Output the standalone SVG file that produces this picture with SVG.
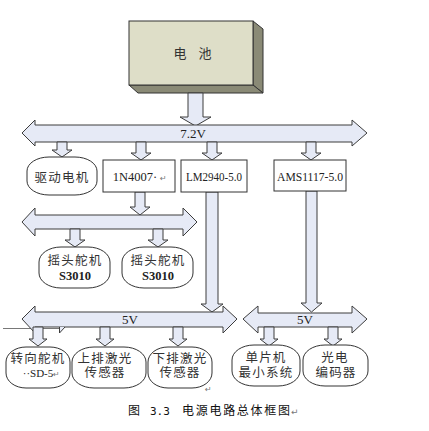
<svg xmlns="http://www.w3.org/2000/svg" width="429" height="431" viewBox="0 0 429 431">
<style>
.arr{fill:#e6eaf6;stroke:#3c3c3c;stroke-width:1;stroke-linejoin:miter}
.box{fill:#ffffff;stroke:#333;stroke-width:1}
.oval{fill:#ffffff;stroke:#333;stroke-width:1}
.t{font-family:"Liberation Serif","Noto Sans CJK SC",serif;font-size:13px;fill:#222;text-anchor:middle}
.cn{font-family:"Liberation Serif","Noto Sans CJK SC",sans-serif;font-size:12.5px;fill:#333;text-anchor:middle;letter-spacing:1.2px}
.ret{font-family:"DejaVu Sans",sans-serif;font-size:8px;fill:#777}
</style>
<rect width="429" height="431" fill="#ffffff"/>

<g id="battery">
<polygon points="253,21 263,29 263,93 253,85" fill="#8a8a76" stroke="#333" stroke-width="1"/>
<polygon points="129,85 253,85 263,93 138,93" fill="#8a8a76" stroke="#333" stroke-width="1"/>
<rect x="129" y="21" width="124" height="64" fill="#dedec8" stroke="#333" stroke-width="1"/>
<text x="180" y="58" class="cn" style="font-size:13px;letter-spacing:0">电</text>
<text x="205" y="58" class="cn" style="font-size:13px;letter-spacing:0">池</text>
</g>

<g id="connectors">
<path class="arr" d="M188,93 L203,93 L203,117 L211,117 L195.5,126 L180,117 L188,117 Z"/>
<path class="arr" d="M206,192 L218,192 L218,304 L223,304 L212,312 L201,304 L206,304 Z"/>
<path class="arr" d="M306,191 L317,191 L317,303 L322,303 L311.5,312 L301,303 L306,303 Z"/>
<path class="arr" d="M135,192 L145,192 L145,207 L150,207 L140,215 L130,207 L135,207 Z"/>

<g id="bus72">
<path class="arr" d="M22,133 L35,120 L35,125 L352,125 L352,120 L367,133 L352,146 L352,142 L35,142 L35,146 Z"/>
<text x="193" y="137.5" class="t">7.2V</text>
</g>
<g id="bus2">
<path class="arr" d="M22,222 L35,208 L35,215 L183,215 L183,208 L197,222 L183,236 L183,229 L35,229 L35,236 Z"/>
</g>
<path d="M3,328.5 H62" stroke="#555" stroke-width="0.8" fill="none"/>
<g id="bus5a">
<path class="arr" d="M22,319 L35,306 L35,312 L223,312 L223,306 L237,319 L223,333 L223,327 L35,327 L35,333 Z"/>
<text x="130" y="324" class="t">5V</text>
</g>
<path class="arr" d="M59.5,327 L59.5,333 L65,327"/>
<g id="bus5b">
<path class="arr" d="M243,319 L258,306 L258,313 L352,313 L352,306 L367,319 L352,333 L352,327 L258,327 L258,333 Z"/>
<text x="305" y="324" class="t">5V</text>
</g>

<path class="arr" d="M57,142 L67,142 L67,150 L72,150 L62,157 L52,150 L57,150 Z"/>
<path class="arr" d="M136,142 L146,142 L146,153 L151,153 L141,160 L131,153 L136,153 Z"/>
<path class="arr" d="M207,142 L217,142 L217,153 L222,153 L212,160 L202,153 L207,153 Z"/>
<path class="arr" d="M306,142 L316,142 L316,153 L321,153 L311,160 L301,153 L306,153 Z"/>
<path class="arr" d="M70,229 L80,229 L80,240 L85,240 L75,247 L65,240 L70,240 Z"/>
<path class="arr" d="M153,229 L163,229 L163,240 L168,240 L158,247 L148,240 L153,240 Z"/>
<path class="arr" d="M33,327 L43,327 L43,339 L47,339 L38,346 L29,339 L33,339 Z"/>
<path class="arr" d="M100,327 L110,327 L110,339 L114,339 L105,346 L96,339 L100,339 Z"/>
<path class="arr" d="M173,327 L183,327 L183,339 L187,339 L178,346 L169,339 L173,339 Z"/>
<path class="arr" d="M264,327 L274,327 L274,339 L278,339 L269,346 L260,339 L264,339 Z"/>
<path class="arr" d="M328,327 L338,327 L338,339 L342,339 L333,346 L324,339 L328,339 Z"/>
</g>

<g id="motor">
<rect class="oval" x="27" y="157" width="70" height="38" rx="22" ry="14"/>
<text x="62" y="181.5" class="cn">驱动电机</text>
</g>
<g id="n1n4007">
<rect class="box" x="103" y="160" width="72" height="32"/>
<text x="135" y="181" class="t" style="font-size:12.5px">1N4007·</text>
<text x="160" y="181" class="ret">↵</text>
</g>
<g id="lm2940">
<rect class="box" x="181" y="160" width="66" height="32"/>
<text x="214" y="180.5" class="t" style="font-size:11.5px" textLength="56" lengthAdjust="spacingAndGlyphs">LM2940-5.0</text>
</g>
<g id="ams1117">
<rect class="box" x="274" y="160" width="72" height="31"/>
<text x="310" y="180.5" class="t" style="font-size:12px" textLength="66" lengthAdjust="spacingAndGlyphs">AMS1117-5.0</text>
</g>
<g id="servo1">
<rect class="oval" x="39" y="247" width="71" height="41" rx="22" ry="15"/>
<text x="75" y="265" class="cn">摇头舵机</text>
<text x="75" y="279.5" class="t" style="font-weight:bold;font-size:12.5px">S3010</text>
</g>
<g id="servo2">
<rect class="oval" x="122" y="247" width="71" height="41" rx="22" ry="15"/>
<text x="158" y="265" class="cn">摇头舵机</text>
<text x="158" y="279.5" class="t" style="font-weight:bold;font-size:12.5px">S3010</text>
</g>
<g id="steer">
<rect class="oval" x="6" y="347" width="64" height="41" rx="20" ry="15"/>
<text x="38" y="363" class="cn">转向舵机</text>
<text x="38" y="376.5" class="t" style="font-size:11px">··SD-5</text>
<text x="53" y="376.5" class="ret">↵</text>
</g>
<g id="laserup">
<rect class="oval" x="72" y="347" width="74" height="41" rx="22" ry="15"/>
<text x="105" y="363" class="cn">上排激光</text>
<text x="105" y="377" class="cn">传感器</text>
</g>
<g id="laserdown">
<rect class="oval" x="148" y="347" width="64" height="41" rx="20" ry="15"/>
<text x="180" y="363" class="cn">下排激光</text>
<text x="180" y="377" class="cn">传感器</text>
<text x="205" y="392" class="ret">↵</text>
</g>
<g id="mcu">
<rect class="oval" x="232" y="345" width="68" height="41" rx="22" ry="15"/>
<text x="266" y="362" class="cn">单片机</text>
<text x="266" y="376.5" class="cn">最小系统</text>
</g>
<g id="encoder">
<rect class="oval" x="303" y="345" width="65" height="41" rx="22" ry="15"/>
<text x="335" y="362" class="cn">光电</text>
<text x="336" y="376.5" class="cn">编码器</text>
</g>

<g id="caption" font-family="'Noto Sans CJK SC',sans-serif" font-size="12" fill="#111">
<text x="128" y="415">图</text>
<text x="150" y="415" font-family="'DejaVu Sans Mono',monospace" font-size="11">3.3</text>
<text x="182" y="415" textLength="108" lengthAdjust="spacing">电源电路总体框图</text>
<text x="291" y="415" class="ret" style="font-size:9px">↵</text>
</g>
</svg>
